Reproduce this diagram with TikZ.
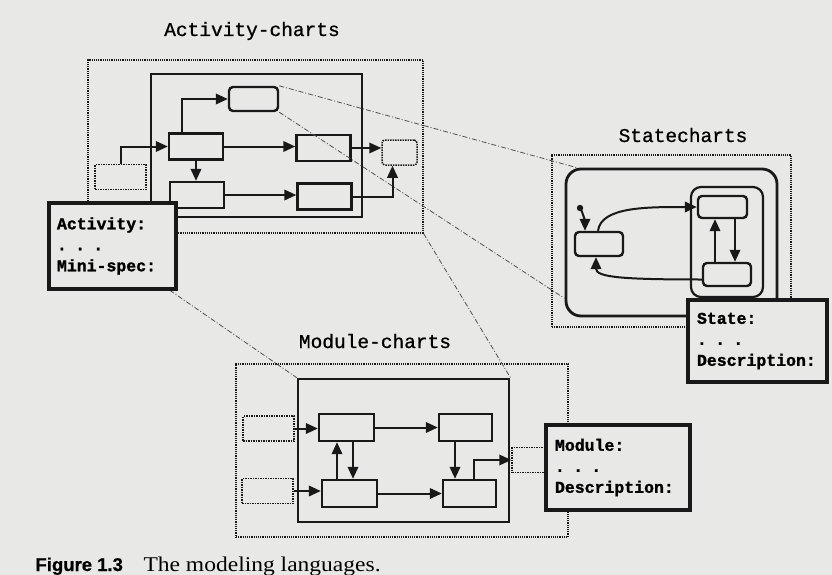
\documentclass[tikz,border=0pt]{standalone}
\usepackage{fontspec}
\setmonofont{Liberation Mono}
\newfontfamily\chartfont{Liberation Mono}[FakeBold=0.8]
\newfontfamily\formfont{Liberation Mono}[BoldFeatures={FakeBold=1.4}]
\newfontfamily\figfont{Liberation Sans}[BoldFeatures={FakeBold=0.6}]
\newfontfamily\capfont[FakeStretch=1.12]{Liberation Serif}
\usetikzlibrary{arrows.meta}
\definecolor{paper}{RGB}{232,232,230}
\definecolor{ink}{RGB}{25,25,25}

\begin{document}
\begin{tikzpicture}[x=1pt, y=-1pt,
  frame/.style={draw=ink, densely dotted, line width=1.2pt, inner sep=0pt},
  chart/.style={draw=ink, line width=2.8pt, inner sep=0pt},
  blk/.style={draw=ink, line width=2.4pt, inner sep=0pt, minimum width=54pt, minimum height=26pt},
  ext/.style={draw=ink, densely dotted, line width=1.5pt, inner sep=0pt, minimum width=51pt, minimum height=25pt},
  form/.style={draw=ink, fill=paper, line width=4pt, outer sep=0pt, anchor=north west, align=left,
    inner xsep=8pt, font=\fontsize{16.5}{21}\selectfont\formfont\bfseries},
  title/.style={anchor=base, font=\fontsize{19.5}{23}\selectfont\chartfont},
  arr/.style={draw=ink, line width=2pt, -{Triangle[length=12pt,width=10.5pt]}},
  link/.style={draw=ink!75, line width=0.8pt, dash pattern=on 5pt off 2pt on 1pt off 2pt}]
  % paper and page size
  \fill[paper] (0,0) rectangle (832,575);
  \useasboundingbox (0,0) rectangle (832,575);

  % Activity-charts
  \node[title] (acttitle) at (252,36) {Activity-charts};
  \node[frame, minimum width=335pt, minimum height=173pt] (aframe) at (255.5,146.5) {};
  \node[chart, minimum width=211pt, minimum height=143pt] (achart) at (256.5,145.5) {};
  \node[blk, rounded corners=4pt, minimum width=49pt, minimum height=24pt] (atop) at (253.5,99) {};
  \node[blk] (a1) at (196,146.5) {};
  \node[blk] (a2) at (323.5,148) {};
  \node[blk] (a3) at (197,195) {};
  \node[blk] (a4) at (324.5,196.5) {};
  \node[ext] (ain) at (120.5,177) {};
  \node[ext, rounded corners=3pt, minimum width=35pt] (aout) at (399.5,152.5) {};
  \coordinate (a1up) at ([xshift=-14pt]a1.north);
  \coordinate (aoutin) at ([xshift=-7pt]aout.south);
  \draw[arr] (ain.north) |- (a1.west);
  \draw[arr] (a1up) |- (atop.west);
  \draw[arr] (a1.east) -- (a1.east -| a2.west);
  \draw[arr] (a1.south) -- (a1.south |- a3.north);
  \draw[arr] (a3.east) -- (a3.east -| a4.west);
  \draw[arr] (a2.east) -- (a2.east -| aout.west);
  \draw[arr] (a4.east) -| (aoutin);

  % Statecharts
  \node[title] (sttitle) at (683,142) {Statecharts};
  \node[frame, minimum width=239pt, minimum height=172pt] (sframe) at (671.5,241) {};
  \node[chart, rounded corners=15pt, minimum width=211pt, minimum height=147pt] (souter) at (671.5,242.5) {};
  \node[chart, line width=2.2pt, rounded corners=10pt, minimum width=72pt, minimum height=110pt] (sinner) at (727,242) {};
  \node[blk, rounded corners=4pt, minimum width=48pt, minimum height=24pt] (s1) at (599,244) {};
  \node[blk, rounded corners=4pt, minimum width=49pt, minimum height=22pt] (s2) at (722.5,207) {};
  \node[blk, rounded corners=4pt, minimum width=48pt, minimum height=23pt] (s3) at (727,274.5) {};
  \coordinate (sdef) at (580,208);
  \coordinate (s2down) at ([xshift=12.5pt]s2.south);
  \coordinate (s3up) at ([xshift=-12pt]s3.north);
  \fill[ink] (sdef) circle (3.2);
  \draw[arr] (sdef) .. controls +(3,4) and +(0,-8) .. ([xshift=-14pt]s1.north);
  \draw[arr] ([xshift=-1pt]s1.north) .. controls +(3,-24) and +(-50,0) .. (s2.west);
  \draw[arr] (s2down) -- (s2down |- s3.north);
  \draw[arr] (s3up) -- (s3up |- s2.south);
  \draw[arr] ([yshift=-5pt]s3.west) .. controls +(-80,0) and +(0,20) .. ([xshift=-3pt]s1.south);

  % Module-charts
  \node[title] (modtitle) at (375,348) {Module-charts};
  \node[frame, minimum width=332pt, minimum height=173pt] (mframe) at (402,450.5) {};
  \node[chart, minimum width=211pt, minimum height=143pt] (mchart) at (403.5,450.5) {};
  \node[blk, minimum width=55pt, minimum height=27pt] (m1) at (346.5,427.5) {};
  \node[blk, minimum width=53pt, minimum height=27pt] (m2) at (465.5,427.5) {};
  \node[blk, minimum width=55pt, minimum height=27pt] (m3) at (349.5,493.5) {};
  \node[blk, minimum width=53pt, minimum height=27pt] (m4) at (469.5,493.5) {};
  \node[ext] (min1) at (268.5,428.5) {};
  \node[ext] (min2) at (267.5,491) {};
  \node[ext, minimum width=44pt] (mout) at (534,460) {};
  \coordinate (m1down) at ([xshift=6.5pt]m1.south);
  \coordinate (m3up) at ([xshift=-12.5pt]m3.north);
  \coordinate (m2down) at ([xshift=-10.5pt]m2.south);
  \coordinate (m4up) at ([xshift=4.5pt]m4.north);
  \draw[arr] (min1.east) -- (min1.east -| m1.west);
  \draw[arr] (min2.east) -- (min2.east -| m3.west);
  \draw[arr] (m1.east) -- (m1.east -| m2.west);
  \draw[arr] (m3.east) -- (m3.east -| m4.west);
  \draw[arr] (m1down) -- (m1down |- m3.north);
  \draw[arr] (m3up) -- (m3up |- m1.south);
  \draw[arr] (m2down) -- (m2down |- m4.north);
  \draw[arr] (m4up) |- (mout.west);

  % dash-dot links between the charts
  \draw[link] (atop.north east) -- ([xshift=12pt]souter.north west);
  \draw[link] (atop.south east) -- ([yshift=19pt]souter.south west);
  \draw[link] (aframe.south east) -- (mchart.north east);
  \draw[link] (aframe.south west) -- (mchart.north west);

  % description forms
  \node[form, text width=111pt, minimum height=86pt] (actform) at (49,203) {Activity:\\. . .\\Mini-spec:};
  \node[form, inner xsep=9pt, text width=121pt, minimum height=82pt] (stform) at (688,300) {State:\\. . .\\Description:};
  \node[form, inner xsep=9pt, text width=126pt, minimum height=85pt] (modform) at (546,425) {Module:\\. . .\\Description:};

  % caption
  \node[anchor=base west, font=\figfont\bfseries\fontsize{18.5}{20}\selectfont] (figno) at (32,571) {Figure 1.3};
  \node[anchor=base west, font=\capfont\fontsize{21}{24}\selectfont] (figcap) at (140,571) {The modeling languages.};
\end{tikzpicture}
\end{document}
